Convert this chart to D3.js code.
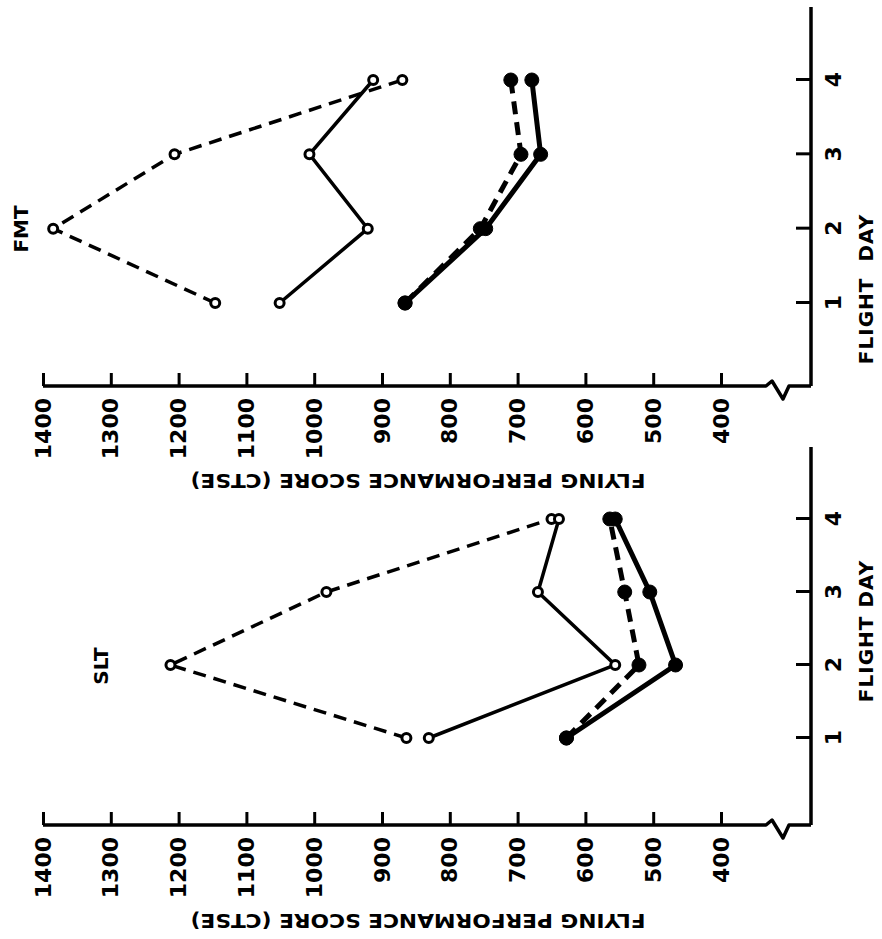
<!DOCTYPE html>
<html>
<head>
<meta charset="utf-8">
<script src="https://cdn.jsdelivr.net/npm/d3@7"></script>
<style>
  body { margin: 0; background: #fff; }
  text { font-family: "DejaVu Sans", sans-serif; font-weight: bold; fill: #000; }
</style>
</head>
<body>
<div id="chart"></div>
<script>
// data (flying performance score, CTSE)
const days = [1, 2, 3, 4];
const scoreTicks = [1400, 1300, 1200, 1100, 1000, 900, 800, 700, 600, 500, 400];

const sltDashedOpen = [864, 1212, 982, 650];
const sltSolidOpen = [831, 556, 670, 639];
const sltDashedFilled = [628, 521, 542, 564];
const sltSolidFilled = [628, 467, 505, 556];

const fmtDashedOpen = [1146, 1385, 1206, 870];
const fmtSolidOpen = [1051, 921, 1007, 913];
const fmtDashedFilled = [866, 755, 695, 710];
const fmtSolidFilled = [866, 747, 666, 679];

const svgWidth = 882;
const svgHeight = 939;

const svg = d3.select("#chart")
  .append("svg")
  .attr("width", svgWidth)
  .attr("height", svgHeight);

// the whole figure is printed sideways: draw it upright, then turn it
const page = svg.append("g")
  .attr("transform", `translate(0, ${svgHeight}) rotate(-90)`);

const dayAxisV = 811;   // position of the flight-day axis
const y = d3.scaleLinear().domain([400, 1400]).range([721, 43]);

const panels = [
  {
    name: "SLT", axisU: 114, day1: 201, day4: 420, endU: 492,
    nameU: 273, nameV: 108, dayLabelU: 308, wordGap: 0, scoreLabelU: 25,
    series: [
      { values: sltDashedOpen, dashed: true, filled: false },
      { values: sltSolidOpen, dashed: false, filled: false },
      { values: sltDashedFilled, dashed: true, filled: true },
      { values: sltSolidFilled, dashed: false, filled: true }
    ]
  },
  {
    name: "FMT", axisU: 553, day1: 636, day4: 859, endU: 932,
    nameU: 710, nameV: 28, dayLabelU: 650, wordGap: 8, scoreLabelU: 465,
    series: [
      { values: fmtDashedOpen, dashed: true, filled: false },
      { values: fmtSolidOpen, dashed: false, filled: false },
      { values: fmtDashedFilled, dashed: true, filled: true },
      { values: fmtSolidFilled, dashed: false, filled: true }
    ]
  }
];

panels.forEach(function (p) {
  const x = d3.scaleLinear().domain([1, 4]).range([p.day1, p.day4]);
  const g = page.append("g");

  // score axis (ticks point into the plot)
  const leftAxis = d3.axisLeft(y)
    .tickValues(scoreTicks)
    .tickFormat(d3.format("d"))
    .tickSizeInner(-13)
    .tickSizeOuter(0)
    .tickPadding(12);
  const ya = g.append("g")
    .attr("transform", `translate(${p.axisU}, 0)`)
    .call(leftAxis);
  ya.select(".domain").remove();
  ya.selectAll(".tick line").attr("stroke", "#000").attr("stroke-width", 3);
  ya.selectAll(".tick text").style("font-size", "22px").style("font-family", "DejaVu Sans").style("font-weight", "bold");

  // axis line with the break near the corner
  const u0 = p.axisU;
  g.append("path")
    .attr("d", `M${u0},${y(1400)} L${u0},766 L${u0 + 5},772 L${u0 - 13},783 L${u0},789 L${u0},${dayAxisV}`)
    .attr("fill", "none")
    .attr("stroke", "#000")
    .attr("stroke-width", 3.5)
    .attr("stroke-linejoin", "round");

  // flight-day axis
  const bottomAxis = d3.axisBottom(x)
    .tickValues(days)
    .tickFormat(d3.format("d"))
    .tickSizeInner(-15)
    .tickSizeOuter(0)
    .tickPadding(14);
  const xa = g.append("g")
    .attr("transform", `translate(0, ${dayAxisV})`)
    .call(bottomAxis);
  xa.select(".domain").remove();
  xa.selectAll(".tick line").attr("stroke", "#000").attr("stroke-width", 3);
  xa.selectAll(".tick text").style("font-size", "22px").style("font-family", "DejaVu Sans").style("font-weight", "bold");

  g.append("line")
    .attr("x1", u0).attr("x2", p.endU)
    .attr("y1", dayAxisV).attr("y2", dayAxisV)
    .attr("stroke", "#000")
    .attr("stroke-width", 3.5);

  // axis titles
  g.append("text")
    .attr("x", p.dayLabelU)
    .attr("y", 873)
    .attr("text-anchor", "middle")
    .style("font-size", "20px")
    .style("letter-spacing", "1px")
    .style("word-spacing", `${p.wordGap}px`)
    .text("FLIGHT DAY");

  g.append("text")
    .attr("transform", `translate(${p.scoreLabelU}, 418) rotate(-90)`)
    .attr("text-anchor", "middle")
    .attr("textLength", 455)
    .attr("lengthAdjust", "spacingAndGlyphs")
    .style("font-size", "20px")
    .text("FLYING PERFORMANCE SCORE (CTSE)");

  g.append("text")
    .attr("x", p.nameU)
    .attr("y", p.nameV)
    .attr("text-anchor", "middle")
    .style("font-size", "20px")
    .text(p.name);

  // lines
  const line = d3.line()
    .x((d, i) => x(days[i]))
    .y(d => y(d));

  p.series.forEach(function (s) {
    g.append("path")
      .datum(s.values)
      .attr("d", line)
      .attr("fill", "none")
      .attr("stroke", "#000")
      .attr("stroke-width", s.filled ? 5 : 3.5)
      .attr("stroke-dasharray", s.dashed ? "13,8" : null);
  });

  // markers
  p.series.forEach(function (s) {
    g.selectAll(null)
      .data(s.values)
      .enter()
      .append("circle")
      .attr("cx", (d, i) => x(days[i]))
      .attr("cy", d => y(d))
      .attr("r", s.filled ? 7 : 4.5)
      .attr("fill", s.filled ? "#000" : "#fff")
      .attr("stroke", "#000")
      .attr("stroke-width", s.filled ? 1 : 3);
  });
});
</script>
</body>
</html>
